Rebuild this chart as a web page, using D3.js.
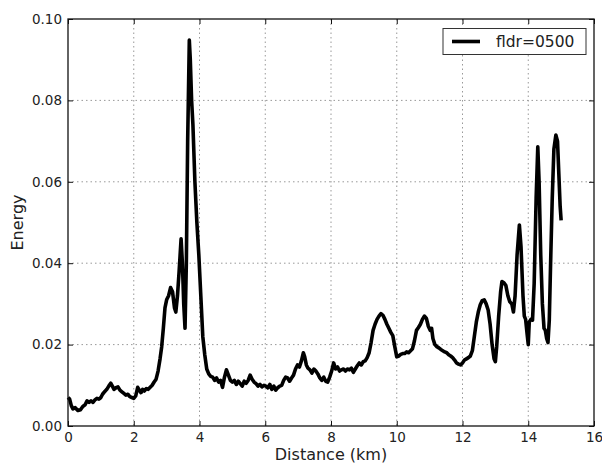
<!DOCTYPE html>
<html><head><meta charset="utf-8">
<script src="https://cdn.jsdelivr.net/npm/d3@7"></script>
<style>body{margin:0;background:#fff;} svg{display:block;font-family:"DejaVu Sans",sans-serif;}</style>
</head><body>
<svg id="c" width="602" height="464"></svg>
<script>
const distance = [0.00,0.05,0.10,0.15,0.22,0.30,0.38,0.45,0.52,0.58,0.64,0.70,0.76,0.82,0.88,0.94,1.00,1.05,1.12,1.18,1.24,1.30,1.35,1.40,1.46,1.52,1.58,1.64,1.70,1.76,1.82,1.88,1.94,2.00,2.06,2.12,2.17,2.22,2.27,2.32,2.38,2.44,2.50,2.56,2.62,2.68,2.74,2.80,2.85,2.90,2.95,3.00,3.06,3.12,3.18,3.24,3.28,3.33,3.38,3.44,3.48,3.52,3.56,3.60,3.64,3.69,3.72,3.76,3.80,3.86,3.92,3.98,4.04,4.10,4.16,4.22,4.28,4.34,4.40,4.46,4.52,4.58,4.64,4.70,4.76,4.82,4.88,4.94,5.00,5.06,5.12,5.18,5.24,5.30,5.36,5.42,5.48,5.54,5.60,5.66,5.72,5.78,5.84,5.90,5.96,6.02,6.08,6.14,6.20,6.26,6.32,6.38,6.44,6.50,6.56,6.62,6.68,6.74,6.80,6.86,6.92,6.98,7.04,7.10,7.16,7.20,7.25,7.30,7.36,7.42,7.48,7.54,7.60,7.66,7.72,7.78,7.84,7.90,7.96,8.02,8.08,8.14,8.20,8.26,8.32,8.38,8.44,8.50,8.56,8.62,8.68,8.74,8.80,8.86,8.92,8.98,9.04,9.10,9.16,9.22,9.28,9.34,9.40,9.46,9.52,9.58,9.64,9.70,9.76,9.82,9.88,9.94,10.00,10.06,10.12,10.18,10.24,10.30,10.36,10.42,10.48,10.54,10.60,10.66,10.72,10.78,10.84,10.90,10.96,11.02,11.06,11.10,11.16,11.22,11.28,11.34,11.40,11.46,11.52,11.58,11.64,11.70,11.76,11.82,11.88,11.94,12.00,12.06,12.12,12.18,12.24,12.30,12.36,12.42,12.48,12.54,12.60,12.66,12.72,12.78,12.84,12.90,12.96,13.00,13.04,13.10,13.16,13.20,13.26,13.32,13.38,13.44,13.50,13.55,13.60,13.66,13.73,13.78,13.84,13.88,13.92,13.96,14.00,14.03,14.08,14.13,14.18,14.24,14.29,14.33,14.38,14.43,14.48,14.52,14.56,14.60,14.64,14.68,14.73,14.78,14.84,14.89,14.93,14.97,15.00];
const energy = [0.0070,0.0066,0.0050,0.0042,0.0045,0.0038,0.0040,0.0048,0.0052,0.0062,0.0058,0.0062,0.0058,0.0064,0.0068,0.0066,0.0070,0.0078,0.0085,0.0090,0.0098,0.0105,0.0098,0.0090,0.0094,0.0096,0.0088,0.0084,0.0080,0.0076,0.0078,0.0072,0.0070,0.0068,0.0074,0.0095,0.0088,0.0082,0.0090,0.0086,0.0092,0.0090,0.0095,0.0100,0.0108,0.0115,0.0135,0.0165,0.0195,0.0240,0.0290,0.0310,0.0320,0.0340,0.0330,0.0290,0.0280,0.0320,0.0380,0.0460,0.0400,0.0300,0.0240,0.0400,0.0700,0.0948,0.0900,0.0800,0.0740,0.0600,0.0500,0.0420,0.0320,0.0220,0.0175,0.0140,0.0128,0.0122,0.0120,0.0112,0.0118,0.0108,0.0112,0.0095,0.0120,0.0138,0.0125,0.0112,0.0108,0.0112,0.0102,0.0110,0.0104,0.0098,0.0110,0.0105,0.0112,0.0125,0.0115,0.0108,0.0104,0.0098,0.0102,0.0096,0.0100,0.0098,0.0094,0.0102,0.0090,0.0098,0.0088,0.0094,0.0098,0.0100,0.0112,0.0120,0.0118,0.0110,0.0118,0.0125,0.0140,0.0150,0.0145,0.0160,0.0180,0.0170,0.0150,0.0142,0.0138,0.0130,0.0140,0.0135,0.0128,0.0118,0.0112,0.0120,0.0110,0.0108,0.0120,0.0135,0.0155,0.0140,0.0145,0.0135,0.0138,0.0140,0.0135,0.0140,0.0138,0.0142,0.0132,0.0140,0.0148,0.0155,0.0150,0.0158,0.0160,0.0168,0.0180,0.0205,0.0235,0.0250,0.0262,0.0270,0.0276,0.0272,0.0262,0.0250,0.0240,0.0230,0.0222,0.0195,0.0170,0.0172,0.0176,0.0178,0.0178,0.0182,0.0180,0.0185,0.0190,0.0210,0.0235,0.0242,0.0250,0.0262,0.0270,0.0265,0.0245,0.0235,0.0240,0.0215,0.0200,0.0195,0.0192,0.0188,0.0185,0.0182,0.0180,0.0175,0.0172,0.0168,0.0162,0.0155,0.0152,0.0150,0.0155,0.0162,0.0165,0.0168,0.0172,0.0185,0.0220,0.0255,0.0280,0.0298,0.0308,0.0310,0.0300,0.0285,0.0250,0.0200,0.0165,0.0158,0.0195,0.0270,0.0330,0.0355,0.0352,0.0345,0.0320,0.0305,0.0300,0.0280,0.0320,0.0420,0.0494,0.0440,0.0320,0.0270,0.0262,0.0230,0.0200,0.0255,0.0262,0.0260,0.0350,0.0560,0.0686,0.0600,0.0420,0.0300,0.0240,0.0235,0.0215,0.0205,0.0260,0.0400,0.0560,0.0680,0.0715,0.0700,0.0620,0.0540,0.0505];
const xTicks = [0,2,4,6,8,10,12,14,16];
const yTicks = [0.00,0.02,0.04,0.06,0.08,0.10];
const seriesName = "fldr=0500";
const xLabel = "Distance (km)";
const yLabel = "Energy";

const L = 68, R = 594, T = 19, B = 426;
const svg = d3.select("#c");
const x = d3.scaleLinear().domain([0,16]).range([L,R]);
const y = d3.scaleLinear().domain([0,0.10]).range([B,T]);

// grid
const g = svg.append("g");
g.selectAll(".gx").data(xTicks.slice(1,-1)).enter().append("line")
  .attr("x1",d=>x(d)).attr("x2",d=>x(d)).attr("y1",T).attr("y2",B)
  .attr("stroke","#999").attr("stroke-width",1).attr("stroke-dasharray","1.5,3");
g.selectAll(".gy").data(yTicks.slice(1,-1)).enter().append("line")
  .attr("y1",d=>y(d)).attr("y2",d=>y(d)).attr("x1",L).attr("x2",R)
  .attr("stroke","#999").attr("stroke-width",1).attr("stroke-dasharray","1.5,3");

// axes (ticks inward on all sides)
const tickLen = 5;
const axB = d3.axisBottom(x).tickValues(xTicks).tickSize(-tickLen).tickPadding(6).tickFormat(d3.format("d"));
const axT = d3.axisTop(x).tickValues(xTicks).tickSize(-tickLen).tickFormat("");
const axL = d3.axisLeft(y).tickValues(yTicks).tickSize(-tickLen).tickPadding(6).tickFormat(d3.format(".2f"));
const axR = d3.axisRight(y).tickValues(yTicks).tickSize(-tickLen).tickFormat("");
function style(sel){
  sel.select(".domain").remove();
  sel.selectAll(".tick line").attr("stroke","#111").attr("stroke-width",1);
  sel.selectAll(".tick text").attr("fill","#222").style("font-size","13.5px").style("font-family","'DejaVu Sans',sans-serif");
}
svg.append("g").attr("transform",`translate(0,${B})`).call(axB).call(style);
svg.append("g").attr("transform",`translate(0,${T})`).call(axT).call(style);
svg.append("g").attr("transform",`translate(${L},0)`).call(axL).call(style);
svg.append("g").attr("transform",`translate(${R},0)`).call(axR).call(style);

// line
const pts = distance.map((d,i)=>[d,energy[i]]);
const line = d3.line().x(d=>x(d[0])).y(d=>y(d[1])).curve(d3.curveLinear);
svg.append("path").datum(pts).attr("d",line).attr("fill","none")
  .attr("stroke","#000").attr("stroke-width",3.6).attr("stroke-linejoin","round").attr("stroke-linecap","butt");

// frame
svg.append("rect").attr("x",L).attr("y",T).attr("width",R-L).attr("height",B-T)
  .attr("fill","none").attr("stroke","#111").attr("stroke-width",1.3);

// labels
svg.append("text").attr("x",(L+R)/2).attr("y",459.5).attr("text-anchor","middle")
  .style("font-size","16px").attr("fill","#222").text(xLabel);
svg.append("text").attr("transform",`translate(23,${(T+B)/2}) rotate(-90)`).attr("text-anchor","middle")
  .style("font-size","16px").attr("fill","#222").text(yLabel);

// legend
const lg = svg.append("g");
lg.append("rect").attr("x",443).attr("y",28.5).attr("width",143).attr("height",26)
  .attr("fill","#fff").attr("stroke","#333").attr("stroke-width",1);
lg.append("line").attr("x1",452).attr("x2",480).attr("y1",41.5).attr("y2",41.5)
  .attr("stroke","#000").attr("stroke-width",3.6);
lg.append("text").attr("x",496).attr("y",47).style("font-size","15.5px").attr("fill","#222").text(seriesName);
</script>
</body></html>
